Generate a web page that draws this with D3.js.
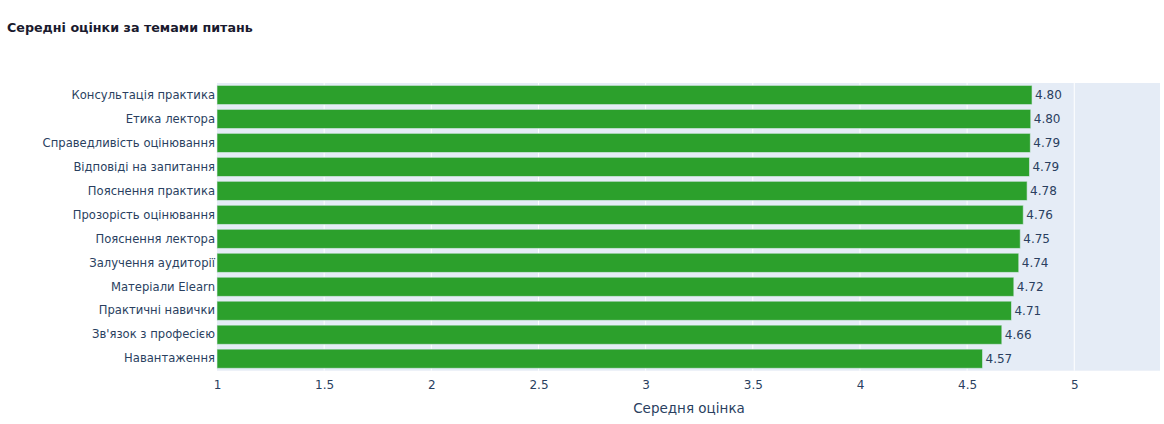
<!DOCTYPE html>
<html><head><meta charset="utf-8">
<script src="https://cdn.jsdelivr.net/npm/d3@7"></script>
<style>body{margin:0;background:#fff}svg{display:block}</style>
</head><body>
<svg id="c" width="1164" height="424"></svg>
<script>
const categories = ["Консультація практика","Етика лектора","Справедливість оцінювання","Відповіді на запитання","Пояснення практика","Прозорість оцінювання","Пояснення лектора","Залучення аудиторії","Матеріали Elearn","Практичні навички","Зв'язок з професією","Навантаження"];
const values = [4.803,4.797,4.795,4.791,4.78,4.762,4.748,4.741,4.718,4.707,4.662,4.572];
const xTicks = [1,1.5,2,2.5,3,3.5,4,4.5,5];
const titleText = "Середні оцінки за темами питань";
const xTitle = "Середня оцінка";

const FONT = "'DejaVu Sans', Verdana, sans-serif";
const TXT = "#2a3f5f";
const svg = d3.select("#c");
const m = {l:217, r:4, t:83, b:53.3};
const W = 1164, H = 424;
const x = d3.scaleLinear().domain([1,5.4]).range([m.l, W-m.r]);
const y = d3.scaleBand().domain(categories).range([m.t, H-m.b]).paddingInner(0.2).paddingOuter(0.1);

svg.append("rect").attr("x",m.l).attr("y",m.t).attr("width",W-m.r-m.l).attr("height",H-m.b-m.t).attr("fill","#E5ECF6");
svg.append("g").selectAll("line").data(xTicks.slice(1)).join("line")
  .attr("x1",d=>x(d)).attr("x2",d=>x(d)).attr("y1",m.t).attr("y2",H-m.b)
  .attr("stroke","#fff").attr("stroke-width",1);

svg.append("g").selectAll("rect").data(values).join("rect")
  .attr("x",x(1)).attr("y",(d,i)=>y(categories[i]))
  .attr("width",d=>x(d)-x(1)).attr("height",y.bandwidth())
  .attr("fill","#2ca02c").attr("stroke","rgba(229,236,246,0.6)").attr("stroke-width",1);

svg.append("g").selectAll("text").data(values).join("text")
  .attr("x",d=>x(d)+3).attr("y",(d,i)=>y(categories[i])+y.bandwidth()/2)
  .attr("dy","0.36em").attr("font-family",FONT).attr("font-size",12).attr("fill",TXT)
  .text(d=>d.toFixed(2));

const xa = svg.append("g").attr("transform",`translate(0,${H-m.b})`)
  .call(d3.axisBottom(x).tickValues(xTicks).tickSize(0).tickPadding(10).tickFormat(d3.format("")));
xa.select(".domain").remove();
xa.selectAll("text").attr("font-family",FONT).attr("font-size",12).attr("fill",TXT);

const ya = svg.append("g").attr("transform",`translate(${m.l-1},0)`)
  .call(d3.axisLeft(y).tickSize(0).tickPadding(1));
ya.select(".domain").remove();
ya.selectAll("text").attr("font-family",FONT).attr("font-size",11.6).attr("fill",TXT);

svg.append("text").attr("x",7).attr("y",32).attr("font-family",FONT).attr("font-size",12.7)
  .attr("font-weight","bold").attr("fill","#1a1a2e").text(titleText);
svg.append("text").attr("x",689).attr("y",413)
  .attr("text-anchor","middle").attr("font-family",FONT).attr("font-size",13.5).attr("fill",TXT).text(xTitle);
</script>
</body></html>
